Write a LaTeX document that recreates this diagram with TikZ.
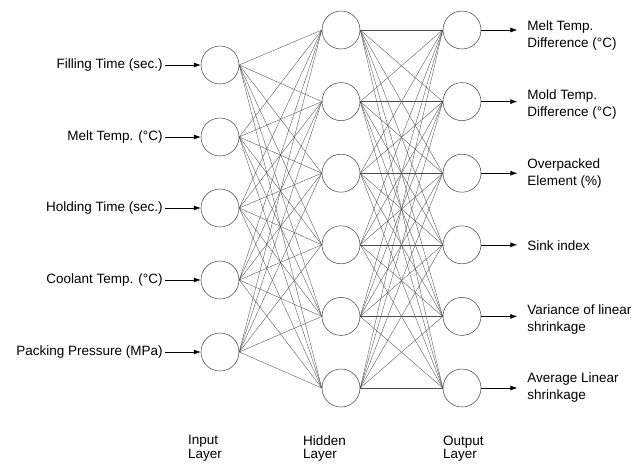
\documentclass[tikz,border=0pt]{standalone}
\usepackage{fontspec}
\setmainfont{Liberation Sans}
\usetikzlibrary{arrows.meta}
\begin{document}
\begin{tikzpicture}[x=1pt, y=-1pt, font=\fontsize{13.5}{17}\selectfont]
			\tikzstyle{neuron} = [circle, minimum size=38pt, inner sep=0pt, draw=black!75, line width=0.5pt, fill=white]
			\tikzstyle{link}   = [draw=black!70, line width=0.35pt]
			\tikzstyle{feed}   = [-{Latex[length=7pt, width=5pt]}, line width=0.5pt]
			\useasboundingbox (0,0) rectangle (633,464);

			\foreach \name/\y in {1/65, 2/137, 3/208, 4/280, 5/352}
				\node[neuron] (i\name) at (220,\y) {};

			\foreach \name/\y in {1/30, 2/101.6, 3/173.2, 4/244.8, 5/316.4, 6/388}
			{
				\node[neuron] (h\name) at (341,\y) {};
				\node[neuron] (o\name) at (462,\y) {};
			}

			\foreach \from in {1,...,5}
				\foreach \to in {1,...,6}
					\path[link] (i\from.east) -- (h\to.west);

			\foreach \from in {1,...,6}
				\foreach \to in {1,...,6}
					\path[link] (h\from.east) -- (o\to.west);

			\foreach \name/\text in {1/Filling Time (sec.), 2/Melt Temp. (°C), 3/Holding Time (sec.), 4/Coolant Temp. (°C), 5/Packing Pressure (MPa)}
			{
				\node[anchor=east, inner sep=0pt] (l\name) at ([xshift=-38pt]i\name.west) {\text};
				\draw[feed, shorten <=2pt] (l\name) -- (i\name);
			}

			\foreach \name/\dy/\text in {1/-6/{Melt Temp.\\Difference (°C)}, 2/-3/{Mold Temp.\\Difference (°C)}, 3/0/{Overpacked\\Element (\%)}, 4/-1/{Sink index}, 5/-3/{Variance of linear\\shrinkage}, 6/0/{Average Linear\\shrinkage}}
			{
				\node[anchor=west, inner sep=0pt, align=left] (r\name) at ([xshift=46pt, yshift=\dy]o\name.east) {\text};
				\draw[feed, shorten >=10pt] (o\name.east) -- (o\name.east -| r\name.west);
			}

			% layer captions
			\foreach \name/\x/\text in {inlayer/188/Input, hidlayer/303/Hidden, outlayer/443/Output}
				\node[anchor=west, inner sep=0pt, align=left, font=\fontsize{13.5}{13.5}\selectfont] (\name) at (\x,448.5) {\text\\Layer};
		\end{tikzpicture}
\end{document}
